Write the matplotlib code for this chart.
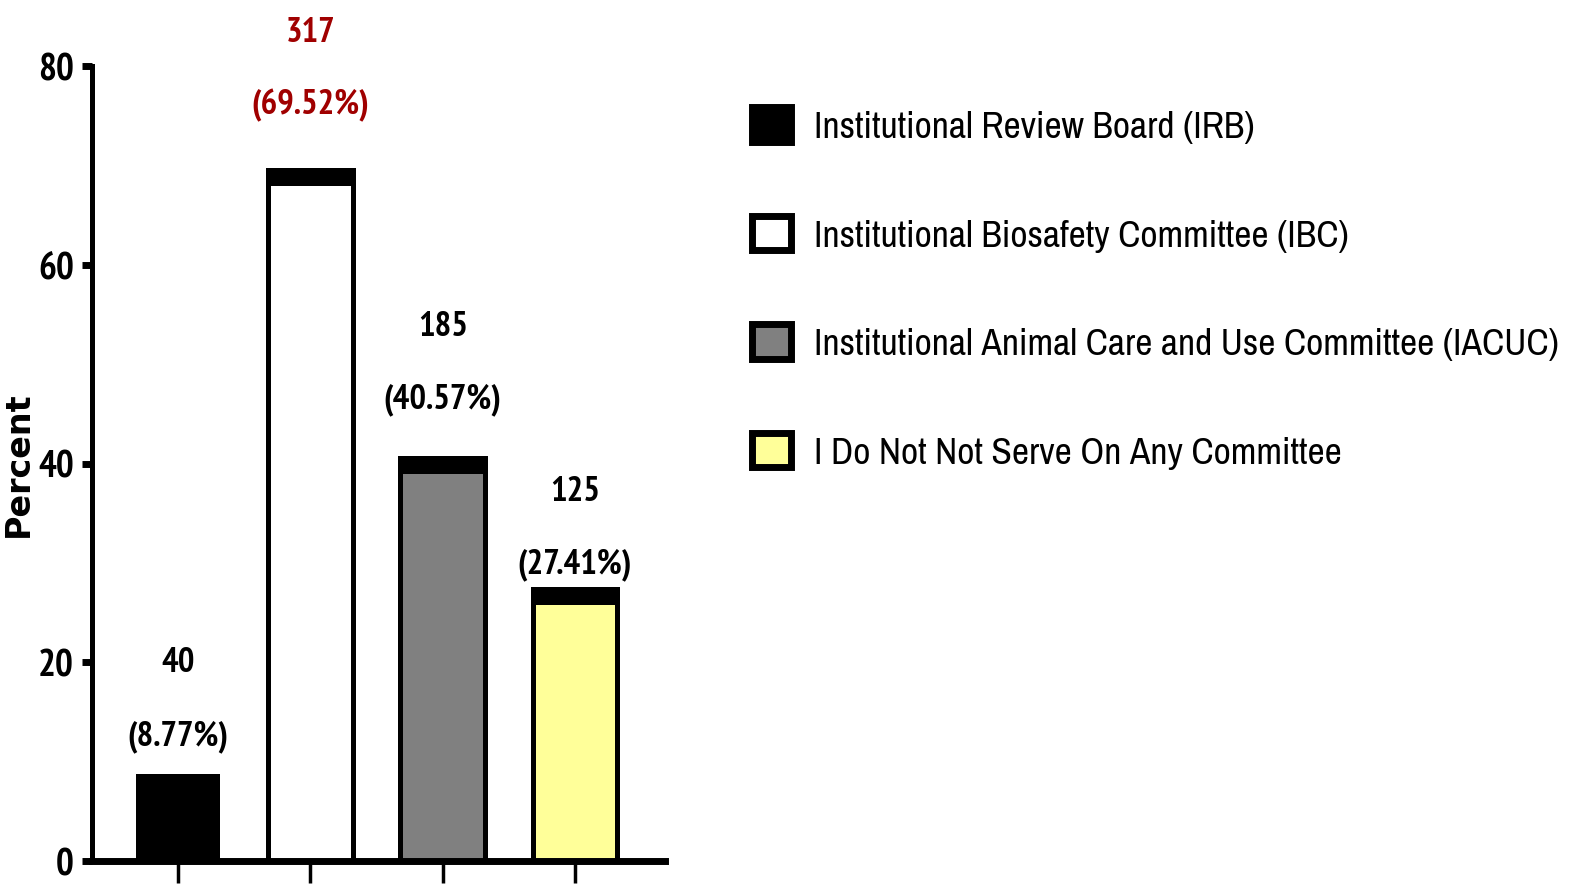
import matplotlib
matplotlib.use("Agg")
import matplotlib.pyplot as plt
from matplotlib import font_manager
from matplotlib.patches import Patch

# ---- Data ----
committees = [
    "Institutional Review Board (IRB)",
    "Institutional Biosafety Committee (IBC)",
    "Institutional Animal Care and Use Committee (IACUC)",
    "I Do Not Not Serve On Any Committee",
]
counts = [40, 317, 185, 125]
percents = [8.77, 69.52, 40.57, 27.41]
colors = ["#000000", "#ffffff", "#808080", "#ffff99"]
label_colors = ["#000000", "#a00000", "#000000", "#000000"]
yticks = [0, 20, 40, 60, 80]


# ---- Fonts: pick a narrow sans if one is installed ----
def weight_num(w):
    return w if isinstance(w, (int, float)) else font_manager.weight_dict.get(w, 400)


def pick(cands, bold=False):
    for c in cands:
        ws = [weight_num(f.weight) for f in font_manager.fontManager.ttflist if f.name == c]
        if ws and (not bold or max(ws) >= 700):
            return c
    return "DejaVu Sans"


narrow_list = ["Arial Narrow", "Liberation Sans Narrow", "Archivo Narrow", "PT Sans Narrow",
               "Roboto Condensed", "Fira Sans Condensed", "Encode Sans Condensed",
               "Sofia Sans Condensed", "IBM Plex Sans Condensed", "Open Sans Condensed"]
narrow = pick(narrow_list)
narrow_bold = pick(narrow_list, bold=True)

fig = plt.figure(figsize=(15.78, 8.95), dpi=100)
ax = fig.add_axes([92 / 1578, 33 / 895, (665 - 92) / 1578, (862 - 67) / 895])

x = list(range(len(committees)))
width = 0.64
cap = 1.1

# ---- Bars ----
for i in x:
    ec = "none" if i == 0 else "black"
    ax.bar(i, percents[i], width=width, color=colors[i], edgecolor=ec, linewidth=3.6, zorder=2)
    if i > 0:
        # thick top edge
        ax.bar(i, cap, bottom=percents[i] - cap - 0.2, width=width, color="black",
               edgecolor="black", linewidth=3.6, zorder=3)

# ---- Value labels ----
pct_gap = [3.8, 6.6, 6.0, 2.5]
cnt_gap = [11.3, 13.9, 13.3, 9.8]
for i in x:
    ax.text(i, percents[i] + pct_gap[i], f"({percents[i]:.2f}%)", ha="center", va="center",
            fontsize=25, fontweight="bold", family=narrow_bold, color=label_colors[i], clip_on=False)
    ax.text(i, percents[i] + cnt_gap[i], str(counts[i]), ha="center", va="center",
            fontsize=25, fontweight="bold", family=narrow_bold, color=label_colors[i], clip_on=False)

# ---- Axes styling ----
ax.set_xlim(-0.65, 3.68)
ax.set_ylim(0, 80)
ax.set_yticks(yticks)
ax.set_yticklabels([str(t) for t in yticks], fontsize=27, fontweight="bold", family=narrow_bold)
ax.set_xticks(x)
ax.set_xticklabels([])
ax.tick_params(axis="y", direction="out", length=7, width=5, pad=6)
ax.tick_params(axis="x", direction="out", length=16, width=2.5)
for s in ["top", "right"]:
    ax.spines[s].set_visible(False)
ax.spines["left"].set_linewidth(3.6)
ax.spines["bottom"].set_linewidth(5)
ax.set_ylabel("Percent", fontsize=24, fontweight="heavy", family="DejaVu Sans")
ax.yaxis.set_label_coords(-0.1, 0.5)

# ---- Legend ----
handles = [Patch(facecolor=colors[i], edgecolor="black", linewidth=5) for i in x]
fig.legend(handles, committees, loc="upper left", bbox_to_anchor=(752 / 1578, 1 - 108 / 895),
           frameon=False, prop={"family": narrow, "size": 27}, handlelength=1.05,
           handleheight=1.05, handletextpad=0.6, labelspacing=1.93, borderpad=0, borderaxespad=0)

fig.savefig("out.png", dpi=100)
